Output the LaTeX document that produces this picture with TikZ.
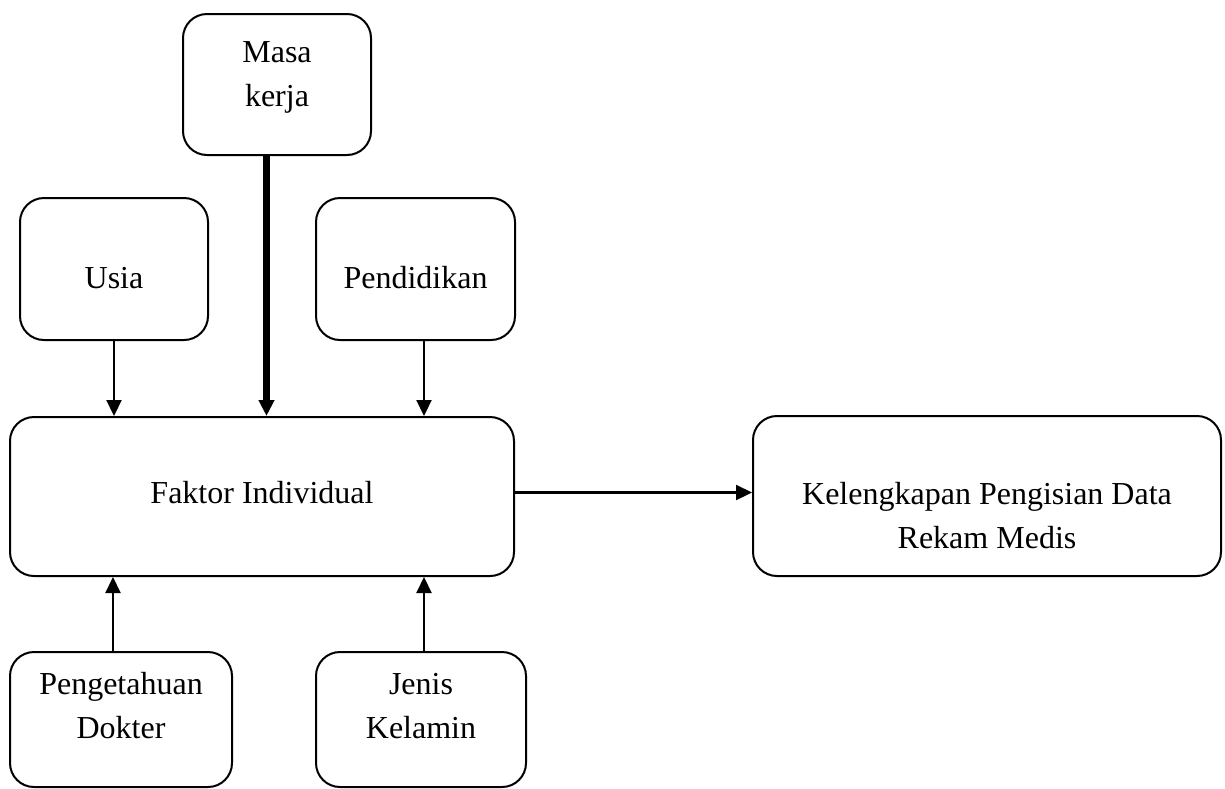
\documentclass[tikz,border=0pt]{standalone}
\usepackage{fontspec}
\setmainfont{Liberation Serif}
\usetikzlibrary{arrows.meta}
\begin{document}
\begin{tikzpicture}[x=0.5pt,y=-0.5pt,
  box/.style={draw,line width=1pt,rounded corners=12pt,inner sep=0pt},
  lbl/.style={font=\fontsize{16}{22}\selectfont,align=center,anchor=base,inner sep=0pt},
  arr/.style={line width=1.1pt,-{Triangle[length=8pt,width=7.5pt]}},
  thickarr/.style={line width=3.5pt,-{Triangle[length=8pt,width=7.5pt]}}]
\useasboundingbox (0,0) rectangle (1225,788);
% boxes
\node[box,minimum width=94pt,minimum height=70.5pt] (masa) at (277,84.5) {};
\node[box,minimum width=94pt,minimum height=71pt] (usia) at (114,269) {};
\node[box,minimum width=99.5pt,minimum height=71pt] (pend) at (415.5,269) {};
\node[box,minimum width=252pt,minimum height=79.5pt] (faktor) at (262,496.5) {};
\node[box,minimum width=234pt,minimum height=80pt] (kel) at (987,496) {};
\node[box,minimum width=111pt,minimum height=67.5pt] (peng) at (121,719.5) {};
\node[box,minimum width=105pt,minimum height=67.5pt] (jenis) at (421,719.5) {};
% texts (base = baseline of last line)
\node[lbl] (masaT) at (277,106) {Masa\\kerja};
\node[lbl] (usiaT) at (114,288) {Usia};
\node[lbl] (pendT) at (415.5,288) {Pendidikan};
\node[lbl] (faktorT) at (262,503) {Faktor Individual};
\node[lbl] (kelT) at (987,548) {Kelengkapan Pengisian Data\\Rekam Medis};
\node[lbl] (pengT) at (121,738) {Pengetahuan\\Dokter};
\node[lbl] (jenisT) at (421,738) {Jenis\\Kelamin};
% connectors
\draw[arr] (usia.south) -- (usia.south |- faktor.north);
\draw[thickarr] ([xshift=-5.25pt]masa.south) -- ([xshift=-5.25pt]masa.south |- faktor.north);
\draw[arr] ([xshift=4.25pt]pend.south) -- ([xshift=4.25pt]pend.south |- faktor.north);
\draw[arr] ([xshift=-4pt]peng.north) -- ([xshift=-4pt]peng.north |- faktor.south);
\draw[arr] ([xshift=1.5pt]jenis.north) -- ([xshift=1.5pt]jenis.north |- faktor.south);
\draw[arr] ([yshift=2pt]faktor.east) -- ([yshift=2pt]faktor.east -| kel.west);
\end{tikzpicture}
\end{document}
